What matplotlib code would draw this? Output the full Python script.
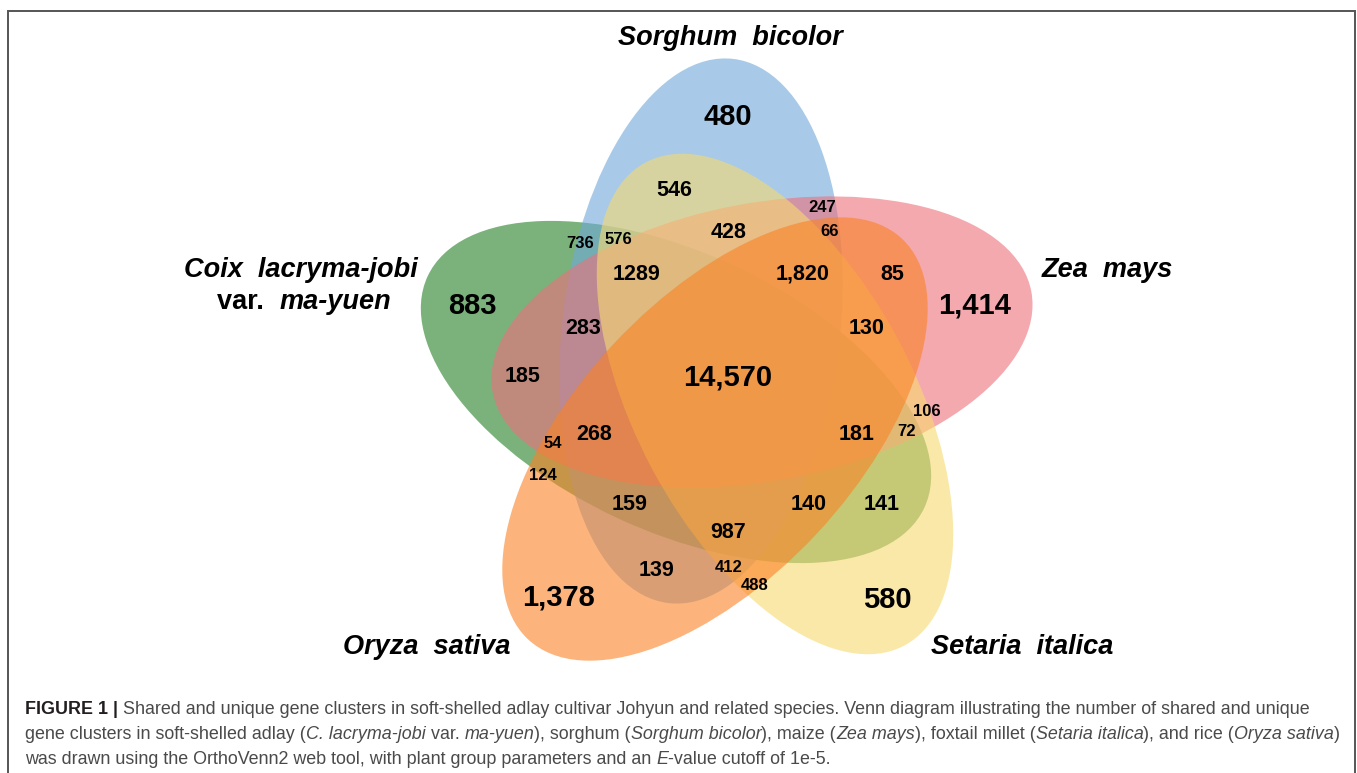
import matplotlib
matplotlib.use("Agg")
import matplotlib.pyplot as plt
from matplotlib.patches import Ellipse

W, H = 1357, 773

# sets in drawing order (bottom to top)
set_names = ["Coix lacryma-jobi var. ma-yuen", "Sorghum bicolor", "Zea mays",
             "Setaria italica", "Oryza sativa"]
set_colors = ["#238025", "#6ea8d9", "#ed707b", "#f8da71", "#fa8225"]

# ellipse geometry (pixel space, y down)
centers = [(676, 392), (701, 331), (762, 342), (775, 404), (715, 439)]
angles = [25, -83.2, -10.6, 61.8, -47]
semi_a = 274
semi_b = 139

# region counts, grouped by label size
big_labels = ["480", "883", "1,414", "1,378", "580", "14,570"]
big_xy = [(728, 117), (472, 306), (975, 306), (558, 597), (887, 600), (728, 378)]

mid_labels = ["546", "428", "1289", "1,820", "85", "283", "130", "185", "268",
              "181", "159", "140", "141", "987", "139"]
mid_xy = [(674, 190), (729, 233), (636, 274), (803, 274), (892, 274), (583, 329),
          (867, 329), (523, 376), (594, 434), (857, 434), (630, 504), (809, 505),
          (882, 505), (728, 532), (656, 570)]

small_labels = ["247", "66", "736", "576", "106", "72", "54", "124", "412", "488"]
small_xy = [(822, 208), (830, 231), (580, 243), (618, 240), (927, 411), (907, 432),
            (553, 443), (543, 475), (729, 567), (755, 586)]

FONT = ["Liberation Sans", "DejaVu Sans"]

fig = plt.figure(figsize=(W / 100, H / 100), dpi=100)
ax = fig.add_axes([0, 0, 1, 1])
ax.set_xlim(0, W)
ax.set_ylim(H, 0)
ax.axis("off")
renderer = fig.canvas.get_renderer()


def text_width(txt, kw):
    t1 = ax.text(0, 0, "|" + txt + "|", **kw)
    t2 = ax.text(0, 0, "||", **kw)
    w = t1.get_window_extent(renderer).width - t2.get_window_extent(renderer).width
    t1.remove()
    t2.remove()
    return w


def draw_runs(x, y, runs, ha="left", **common):
    styles = [{**common, **kw} for _, kw in runs]
    widths = [text_width(txt, st) for (txt, _), st in zip(runs, styles)]
    total = sum(widths)
    if ha == "center":
        x -= total / 2
    elif ha == "right":
        x -= total
    for (txt, _), st, w in zip(runs, styles, widths):
        ax.text(x, y, txt, ha="left", **st)
        x += w


# frame
ax.plot([8, 8, 1355, 1355], [H + 5, 11, 11, H + 5], color="#555555", lw=1.4,
        solid_joinstyle="miter")

for (cx, cy), ang, col in zip(centers, angles, set_colors):
    ax.add_patch(Ellipse((cx, cy), 2 * semi_a, 2 * semi_b, angle=ang,
                         facecolor=col, edgecolor="none", alpha=0.6))

for labels, xy, fs in [(big_labels, big_xy, 21), (mid_labels, mid_xy, 15.5),
                       (small_labels, small_xy, 12)]:
    for lab, (x, y) in zip(labels, xy):
        ax.text(x, y, lab, ha="center", va="center", fontsize=fs,
                fontweight="bold", family=FONT, color="black")

# species names
bi = dict(style="italic")
up = dict(style="normal")
sp = dict(fontsize=19.5, fontweight="bold", family=FONT, va="center", color="black")
draw_runs(730, 38, [("Sorghum  bicolor", bi)], ha="center", **sp)
draw_runs(301, 270, [("Coix  lacryma-jobi", bi)], ha="center", **sp)
draw_runs(304, 302, [("var.  ", up), ("ma-yuen", bi)], ha="center", **sp)
draw_runs(1107, 270, [("Zea  mays", bi)], ha="center", **sp)
draw_runs(427, 647, [("Oryza  sativa", bi)], ha="center", **sp)
draw_runs(1022, 647, [("Setaria  italica", bi)], ha="center", **sp)

# caption
cap = dict(fontsize=12.9, family=FONT, va="baseline", color="#4a4a4a")
n = dict(style="normal")
it = dict(style="italic")
draw_runs(25, 714, [
    ("FIGURE 1 | ", dict(fontweight="bold", color="#231f20")),
    ("Shared and unique gene clusters in soft-shelled adlay cultivar Johyun and "
     "related species. Venn diagram illustrating the number of shared and unique", n),
], **cap)
draw_runs(25, 739, [
    ("gene clusters in soft-shelled adlay (", n), ("C. lacryma-jobi", it),
    (" var. ", n), ("ma-yuen", it), ("), sorghum (", n), ("Sorghum bicolor", it),
    ("), maize (", n), ("Zea mays", it), ("), foxtail millet (", n),
    ("Setaria italica", it), ("), and rice (", n), ("Oryza sativa", it), (")", n),
], **cap)
draw_runs(25, 764, [
    ("was drawn using the OrthoVenn2 web tool, with plant group parameters and an ", n),
    ("E", it), ("-value cutoff of 1e-5.", n),
], **cap)

fig.savefig("out.png", dpi=100)
